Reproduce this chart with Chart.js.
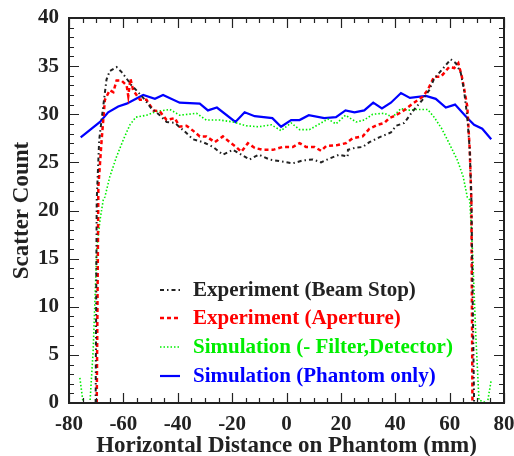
<!DOCTYPE html>
<html>
<head>
<meta charset="utf-8">
<script src="https://cdn.jsdelivr.net/npm/chart.js@4.4.1/dist/chart.umd.min.js"></script>
<style>
  html, body { margin: 0; padding: 0; background: #fff; }
  #wrap { width: 514px; height: 456px; }
</style>
</head>
<body>
<div id="wrap"><canvas id="scatterChart" width="514" height="456"></canvas></div>
<script>
// --- datos ---
const labels = [
  'Experiment (Beam Stop)',
  'Experiment (Aperture)',
  'Simulation (- Filter,Detector)',
  'Simulation (Phantom only)'
];

const xBeam = [-70.2, -69.8, -68.9, -67.6, -66.2, -65.0, -62.5, -60.7, -58.8, -57.0, -54.9, -52.1, -49.7, -46.6, -44.1, -41.1, -37.4, -34.4, -30.7, -27.0, -23.4, -19.7, -16.6, -13.6, -10.2, -6.2, -2.0, 2.3, 6.0, 9.7, 12.7, 15.8, 19.4, 22.5, 22.6, 25.0, 28.0, 30.5, 34.1, 38.4, 40.3, 43.3, 46.4, 50.0, 52.5, 54.3, 57.1, 60.4, 62.3, 64.1, 65.3, 66.5, 67.4, 68.0, 69.0];
const yBeam = [0, 21.1, 27.3, 30.4, 33.6, 34.5, 34.9, 34.4, 33.7, 33.0, 32.4, 31.5, 30.6, 29.9, 29.2, 29.1, 28.2, 27.4, 27.1, 26.6, 25.8, 26.3, 25.8, 25.3, 25.8, 25.3, 25.1, 24.9, 25.2, 25.3, 25.0, 25.4, 25.8, 25.6, 26.3, 26.5, 26.6, 27.1, 27.6, 28.1, 28.8, 29.1, 30.3, 31.5, 32.5, 33.7, 34.6, 35.7, 35.3, 34.3, 32.5, 29.7, 26.3, 21.1, 0];

const xAper = [-69.8, -69.2, -68.0, -66.8, -65.0, -63.7, -62.5, -60.7, -58.8, -58.2, -57.4, -56.4, -53.9, -51.5, -49.0, -46.6, -44.1, -41.1, -39.3, -36.8, -34.4, -31.9, -29.5, -26.4, -23.4, -20.9, -18.5, -16.6, -14.2, -11.7, -8.7, -5.0, -1.4, 2.3, 4.8, 7.2, 10.3, 12.7, 14.6, 18.8, 21.9, 24.3, 28.0, 30.5, 33.5, 36.0, 37.8, 40.3, 42.7, 46.4, 50.0, 51.9, 54.3, 56.8, 59.8, 61.7, 63.2, 64.5, 65.3, 66.5, 67.4, 68.0, 68.4];
const yAper = [0, 22.5, 27.3, 31.5, 32.5, 32.3, 33.5, 33.5, 33.0, 31.9, 33.7, 32.5, 31.5, 31.5, 30.4, 30.3, 29.4, 29.6, 28.7, 28.8, 28.3, 27.7, 27.7, 27.1, 27.7, 27.1, 26.6, 26.1, 27.0, 26.5, 26.3, 26.3, 26.6, 26.6, 27.0, 26.6, 26.6, 26.2, 26.7, 26.8, 27.0, 27.5, 27.7, 28.5, 28.9, 29.1, 29.6, 29.9, 30.3, 31.1, 31.8, 32.5, 33.9, 33.9, 34.9, 34.8, 35.3, 33.9, 32.7, 30.8, 26.3, 21.1, 0];

const xSimFD = [-76.0, -74.8, -72.3, -71.1, -69.8, -68.6, -67.4, -66.8, -65.0, -62.5, -60.1, -57.6, -55.4, -51.5, -47.8, -42.9, -39.3, -33.1, -29.5, -24.6, -19.7, -14.8, -10.2, -5.6, -2.0, 1.7, 4.8, 8.4, 11.5, 15.2, 18.2, 21.7, 25.6, 28.6, 31.7, 36.0, 39.0, 42.1, 44.5, 47.6, 51.9, 54.3, 57.1, 59.8, 62.9, 65.0, 66.5, 67.4, 68.4, 69.6, 70.8, 73.9, 75.3];
const ySimFD = [2.6, 0, 0, 5.5, 15.9, 19.0, 21.1, 21.4, 23.5, 25.6, 27.3, 28.9, 29.7, 29.9, 30.3, 30.5, 29.9, 30.1, 29.4, 29.4, 29.2, 28.8, 28.7, 28.9, 28.3, 29.1, 28.4, 28.4, 28.9, 29.5, 29.0, 29.9, 29.2, 29.4, 30.0, 30.1, 29.7, 30.6, 30.4, 30.5, 30.5, 29.7, 28.5, 27.0, 25.2, 23.5, 21.4, 21.1, 15.9, 7.2, 0.3, 0, 2.4];

const xPhantom = [-75.7, -68.6, -65.6, -61.9, -58.8, -52.7, -48.4, -45.4, -39.3, -31.9, -28.9, -25.6, -18.8, -15.4, -11.7, -5.2, -2.0, 1.7, 4.8, 8.2, 13.9, 18.2, 21.7, 25.0, 28.6, 31.9, 35.1, 38.4, 42.1, 45.4, 51.3, 54.9, 58.6, 62.0, 66.5, 69.0, 72.0, 75.3];
const yPhantom = [27.6, 29.2, 30.2, 30.8, 31.1, 32.0, 31.6, 32.0, 31.2, 31.1, 30.4, 30.7, 29.2, 30.2, 29.8, 29.6, 28.7, 29.4, 29.4, 29.9, 29.6, 29.7, 30.4, 30.2, 30.4, 31.2, 30.6, 31.2, 32.2, 31.7, 31.9, 31.6, 30.7, 31.0, 29.6, 28.9, 28.5, 27.4];

const xTicks = [-80, -60, -40, -20, 0, 20, 40, 60, 80];
const yTicks = [0, 5, 10, 15, 20, 25, 30, 35, 40];

const colores = ['#222222', '#ff0000', '#00ee00', '#0000ff'];

function pares(xs, ys) {
    return xs.map((x, i) => ({ x: x, y: ys[i] }));
}

const serif = '"Liberation Serif", "Times New Roman", serif';

// Marco y marcas de ejes hacia adentro (como en la figura original)
const marcoPlugin = {
    id: 'marco',
    afterDatasetsDraw(chart) {
        const ctx = chart.ctx;
        const a = chart.chartArea;
        const sx = chart.scales.x, sy = chart.scales.y;
        ctx.save();
        ctx.strokeStyle = '#222';
        ctx.lineWidth = 1.2;
        ctx.beginPath();
        for (let v = -80; v <= 80; v += 5) {
            const px = Math.round(sx.getPixelForValue(v)) + 0.5;
            const len = (v % 20 === 0) ? 10 : 5;
            ctx.moveTo(px, a.bottom); ctx.lineTo(px, a.bottom - len);
            ctx.moveTo(px, a.top); ctx.lineTo(px, a.top + len);
        }
        for (let v = 0; v <= 40; v += 1) {
            const py = Math.round(sy.getPixelForValue(v)) + 0.5;
            const len = (v % 5 === 0) ? 10 : 5;
            ctx.moveTo(a.left, py); ctx.lineTo(a.left + len, py);
            ctx.moveTo(a.right, py); ctx.lineTo(a.right - len, py);
        }
        ctx.stroke();
        ctx.lineWidth = 2;
        ctx.strokeRect(a.left, a.top, a.right - a.left, a.bottom - a.top);
        ctx.restore();
    }
};

// Leyenda dentro del área del gráfico
const leyendaPlugin = {
    id: 'leyenda',
    afterDatasetsDraw(chart) {
        const ctx = chart.ctx;
        const filas = [290, 318, 347, 376];
        ctx.save();
        ctx.font = 'bold 21px ' + serif;
        ctx.textBaseline = 'middle';
        chart.data.datasets.forEach((ds, i) => {
            const y = filas[i];
            ctx.strokeStyle = ds.borderColor;
            ctx.lineWidth = ds.borderWidth;
            ctx.setLineDash(ds.borderDash || []);
            ctx.beginPath();
            ctx.moveTo(160, y);
            ctx.lineTo(180, y);
            ctx.stroke();
            ctx.setLineDash([]);
            ctx.fillStyle = ds.borderColor;
            ctx.fillText(ds.label, 193, y + 1);
        });
        ctx.restore();
    }
};

// sin relleno automático para las etiquetas de los extremos
function sinRelleno(s) {
    s.paddingLeft = 0; s.paddingRight = 0; s.paddingTop = 0; s.paddingBottom = 0;
}

document.addEventListener("DOMContentLoaded", function () {
    const canvas = document.getElementById('scatterChart');
    new Chart(canvas.getContext('2d'), {
        type: 'line',
        data: {
            datasets: [
                { label: labels[0], data: pares(xBeam, yBeam), borderColor: colores[0], borderWidth: 2, borderDash: [4, 3, 1.5, 3] },
                { label: labels[1], data: pares(xAper, yAper), borderColor: colores[1], borderWidth: 2.5, borderDash: [4, 3] },
                { label: labels[2], data: pares(xSimFD, ySimFD), borderColor: colores[2], borderWidth: 1.6, borderDash: [1.5, 2] },
                { label: labels[3], data: pares(xPhantom, yPhantom), borderColor: colores[3], borderWidth: 2.2 }
            ]
        },
        options: {
            responsive: false,
            animation: false,
            layout: { padding: { top: 18, right: 10, left: 0, bottom: 0 } },
            elements: { point: { radius: 0 }, line: { tension: 0 } },
            plugins: { legend: { display: false }, tooltip: { enabled: false } },
            scales: {
                x: {
                    type: 'linear', min: -80, max: 80,
                    afterBuildTicks: s => { s.ticks = xTicks.map(v => ({ value: v })); },
                    afterFit: s => { s.height = 53; sinRelleno(s); },
                    grid: { display: false, drawTicks: false },
                    border: { display: false },
                    ticks: { color: '#222', padding: 9, font: { family: serif, size: 21, weight: 'bold' } },
                    title: {
                        display: true, text: 'Horizontal Distance on Phantom (mm)', color: '#222',
                        padding: { top: 0, bottom: 0 },
                        font: { family: serif, size: 23, weight: 'bold', lineHeight: 0.9 }
                    }
                },
                y: {
                    min: 0, max: 40,
                    afterBuildTicks: s => { s.ticks = yTicks.map(v => ({ value: v })); },
                    afterFit: s => { s.width = 69; sinRelleno(s); },
                    grid: { display: false, drawTicks: false },
                    border: { display: false },
                    ticks: { color: '#222', padding: 10, font: { family: serif, size: 21, weight: 'bold' } },
                    title: {
                        display: true, text: 'Scatter Count', color: '#222',
                        padding: { top: 11, bottom: 0 },
                        font: { family: serif, size: 23, weight: 'bold', lineHeight: 1.0 }
                    }
                }
            }
        },
        plugins: [marcoPlugin, leyendaPlugin]
    });
});
</script>
</body>
</html>
